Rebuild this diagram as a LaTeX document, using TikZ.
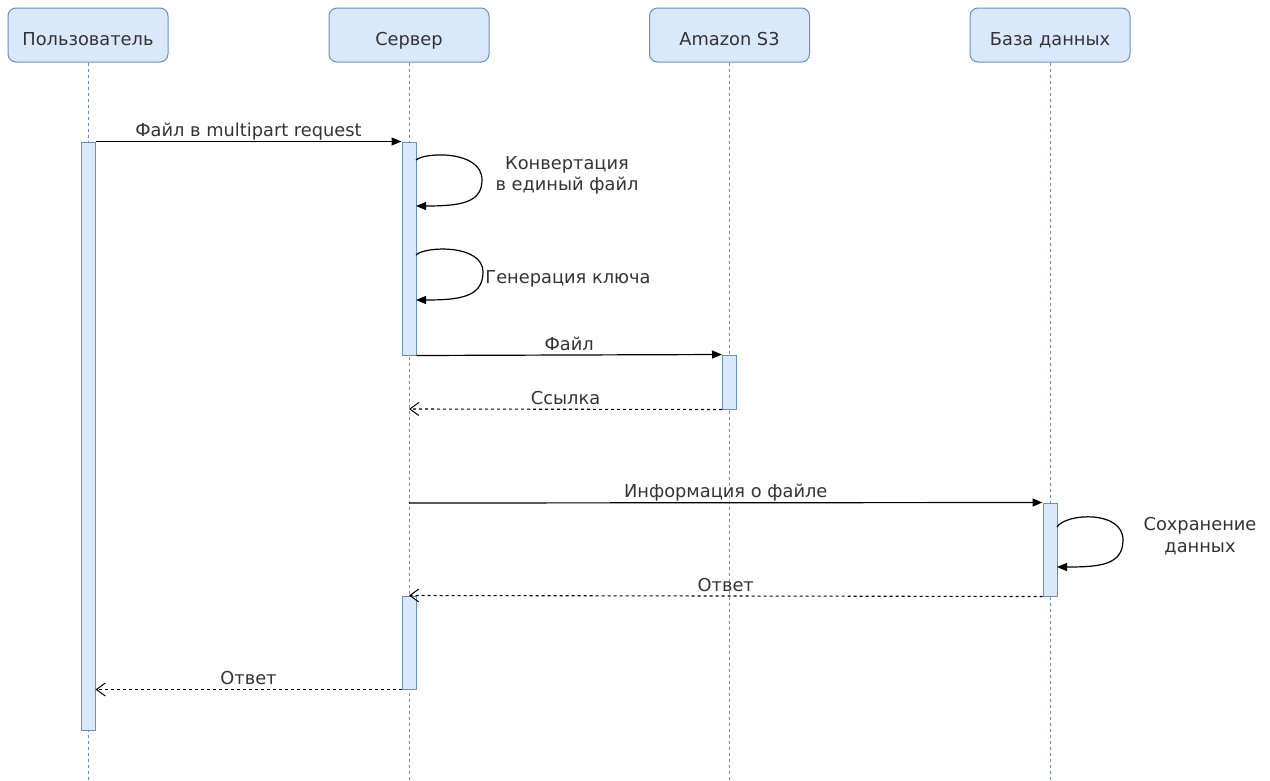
\documentclass[tikz,border=0pt]{standalone}
\usepackage{fontspec}
\setmainfont{DejaVu Sans}
\usetikzlibrary{arrows.meta,calc}
\definecolor{boxfill}{HTML}{DAE8FC}
\definecolor{boxline}{HTML}{6C8EBF}
\definecolor{ink}{HTML}{333333}
\begin{document}
\begin{tikzpicture}[x=1pt,y=-1pt,
  every node/.style={font=\fontsize{17.8}{21}\selectfont, text=ink},
  head/.style={draw=boxline, fill=boxfill, rounded corners=8pt, minimum width=160pt,
    minimum height=54pt, inner sep=0pt, line width=1pt, text height=20pt, text depth=0pt},
  bar/.style={draw=boxline, fill=boxfill, minimum width=14pt, inner sep=0pt, line width=1pt},
  life/.style={draw=boxline, dash pattern=on 3pt off 3pt, line width=1pt},
  msg/.style={draw=black, line width=1.2pt, -{Triangle[length=10pt,width=8pt]}},
  ret/.style={draw=black, line width=1.1pt, dash pattern=on 3pt off 3pt,
    -{Straight Barb[length=9pt,width=13pt,line width=1pt]}},
  lbl/.style={anchor=base, inner sep=0pt, yshift=5pt},
  note/.style={anchor=base, inner sep=0pt, align=center}
]
\useasboundingbox (0,0) rectangle (1270,780);

% participants
\node[head] (user) at (88,35) {Пользователь};
\node[head] (srv)  at (409,35) {Сервер};
\node[head] (s3)   at (729.5,35) {Amazon S3};
\node[head] (db)   at (1050,35) {База данных};

% lifelines
\coordinate (userend) at (88,780);
\coordinate (srvend)  at (409,780);
\coordinate (s3end)   at (729.5,780);
\coordinate (dbend)   at (1050,780);
\draw[life] (user.south) -- (userend);
\draw[life] (srv.south) -- (srvend);
\draw[life] (s3.south) -- (s3end);
\draw[life] (db.south) -- (dbend);

% activation bars
\node[bar, minimum height=588pt] (ub)  at (88,436) {};
\node[bar, minimum height=213pt] (sb1) at (409,248.5) {};
\node[bar, minimum height=54pt]  (s3b) at (729.5,382) {};
\node[bar, minimum height=93pt]  (dbb) at (1050,549.5) {};
\node[bar, minimum height=93pt]  (sb2) at (409,642.5) {};

% points on the server lifeline
\coordinate (srvlink) at (409,409);
\coordinate (srvinfo) at (409,503);

% self-call anchors
\coordinate (l1a) at (416,160);
\coordinate (l1b) at (416,206);
\coordinate (l2a) at (416,255);
\coordinate (l2b) at (416,300);
\coordinate (l3a) at (1057,527);
\coordinate (l3b) at (1057,567);

% messages
\draw[msg] (ub.north east) -- node[lbl]{Файл в multipart request} (sb1.north west);

\draw[msg] (l1a) .. controls (425,152) and (482,150) .. (482,180)
  .. controls (482,203) and (460,206) .. (l1b);
\node[note] (n1) at (567,169) {Конвертация};
\node[note] (n1b) at (567,190) {в единый файл};

\draw[msg] (l2a) .. controls (425,246) and (483,244) .. (483,272)
  .. controls (483,297) and (460,300) .. (l2b);
\node[note] (n2) at (568,283) {Генерация ключа};

\draw[msg] (sb1.south east) -- node[lbl]{Файл} (s3b.north west);
\draw[ret] (s3b.south west) -- node[lbl]{Ссылка} (srvlink);

\draw[msg] (srvinfo) -- node[lbl]{Информация о файле} (dbb.north west);

\draw[msg] (l3a) .. controls (1066,513) and (1123,510) .. (1123,540)
  .. controls (1123,565) and (1100,567) .. (l3b);
\node[note] (n3) at (1200,530) {Сохранение};
\node[note] (n3b) at (1200,552) {данных};

\draw[ret] (dbb.south west) -- node[lbl]{Ответ} (sb2.north);
\draw[ret] (sb2.south west) -- node[lbl]{Ответ} (ub.east |- sb2.south);
\end{tikzpicture}
\end{document}
